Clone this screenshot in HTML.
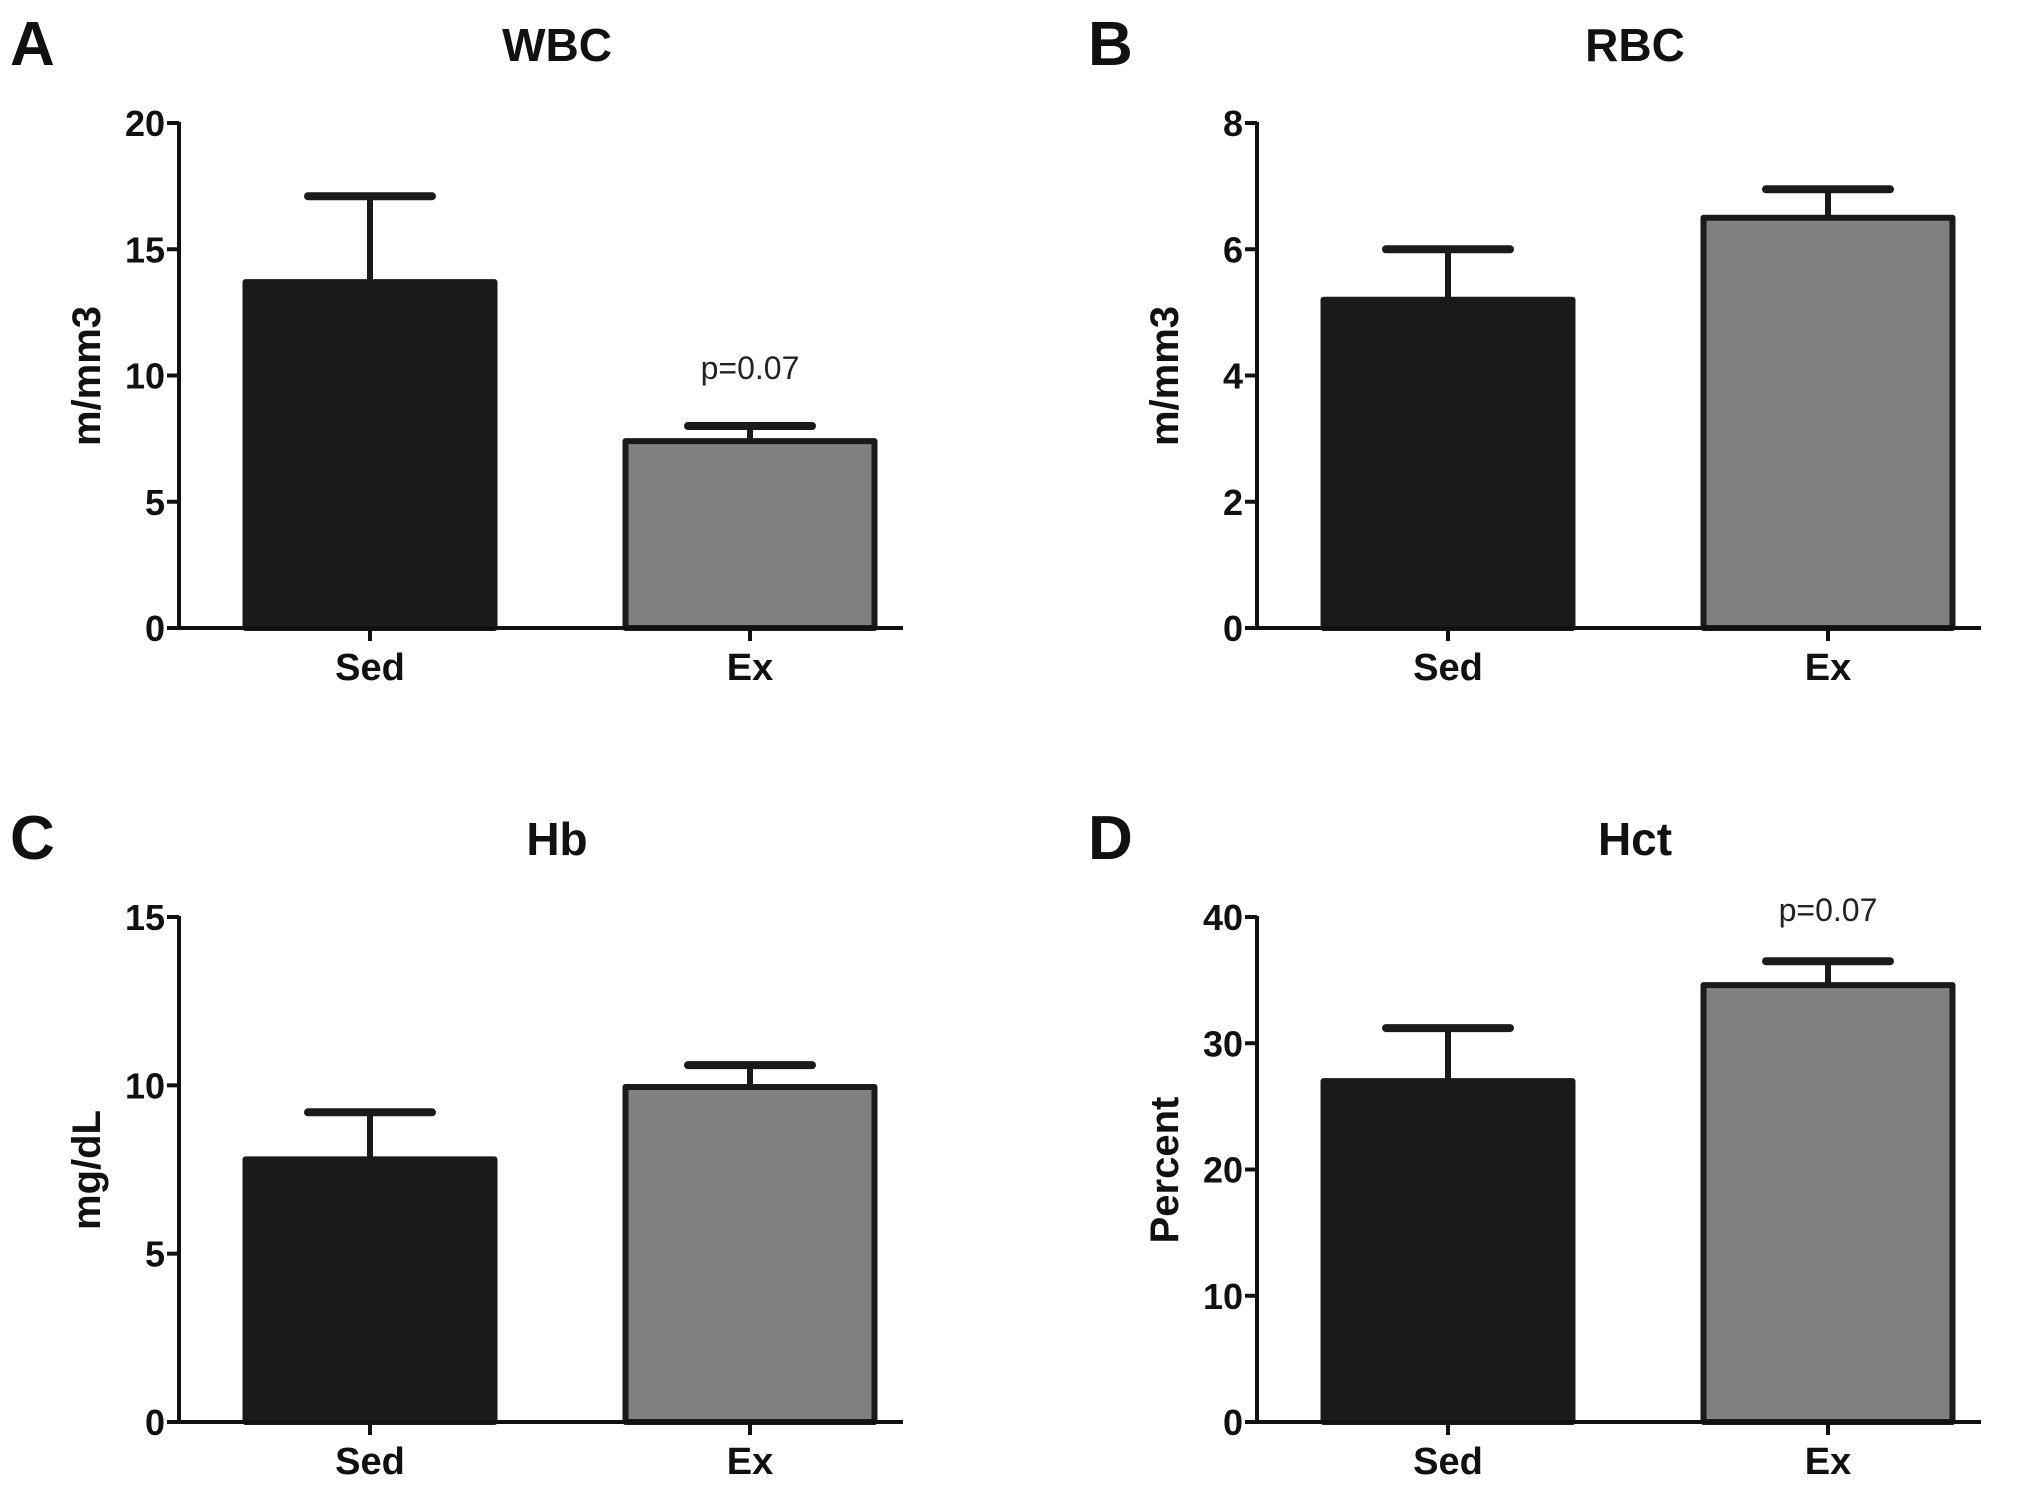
<!DOCTYPE html>
<html><head><meta charset="utf-8">
<style>
html,body{margin:0;padding:0;background:#fff;}
svg{display:block;}
text{font-family:"Liberation Sans",Arial,sans-serif;}
</style></head>
<body>
<svg id="fig" width="2031" height="1486" viewBox="0 0 2031 1486" xmlns="http://www.w3.org/2000/svg"></svg>
<script>
const categories = ["Sed", "Ex"];
const panelLetters = ["A", "B", "C", "D"];
const panelTitles = ["WBC", "RBC", "Hb", "Hct"];
const yLabels = ["m/mm3", "m/mm3", "mg/dL", "Percent"];
const yMaxes = [20, 8, 15, 40];
const yTicks = [[0,5,10,15,20],[0,2,4,6,8],[0,5,10,15],[0,10,20,30,40]];
const meansA = [13.7, 7.4];
const errTopA = [17.1, 8.0];
const meansB = [5.2, 6.5];
const errTopB = [6.0, 6.95];
const meansC = [7.8, 9.95];
const errTopC = [9.2, 10.6];
const meansD = [27.0, 34.6];
const errTopD = [31.2, 36.5];
const pNotes = ["p=0.07", "", "", "p=0.07"];

const allMeans = [meansA, meansB, meansC, meansD];
const allErr = [errTopA, errTopB, errTopC, errTopD];
const svg = document.getElementById('fig');
const NS = "http://www.w3.org/2000/svg";
function mk(tag, attrs, parent){
  const e = document.createElementNS(NS, tag);
  for (const k in attrs) e.setAttribute(k, attrs[k]);
  (parent||svg).appendChild(e); return e;
}
const offX = [0, 1078, 0, 1078];
const offY = [0, 0, 794, 794];
const fills = ["#1a1a1a", "#808080"];
for (let p = 0; p < 4; p++) {
  const ox = offX[p], oy = offY[p];
  const g = mk('g', {});
  
  
  const axX = 179 + ox, y0 = 628 + oy, yTop = 123 + oy, axEnd = 903 + ox;
  const ys = v => y0 - (v / yMaxes[p]) * (y0 - yTop);
  const cx = [370 + ox, 750 + ox];
  const bw = 255;
  let t = mk('text', {x: 10 + ox, y: 65 + oy, 'font-size': 62, 'font-weight': 'bold', fill: '#111'}, g);
  t.textContent = panelLetters[p];
  
  
  t = mk('text', {x: 557 + ox, y: 61 + oy, 'font-size': 46, 'font-weight': 'bold', 'text-anchor': 'middle', fill: '#111'}, g);
  t.textContent = panelTitles[p];
  
  
  t = mk('text', {x: 0, y: 0, 'font-size': 40, 'font-weight': 'bold', 'text-anchor': 'middle', fill: '#111', transform: `translate(${100 + ox},${376 + oy}) rotate(-90)`}, g);
  t.textContent = yLabels[p];
  
  
  for (let i = 0; i < 2; i++) {
    const m = allMeans[p][i], e = allErr[p][i];
    const ey = ys(e), my = ys(m);
    const stem = mk('line', {x1: cx[i], x2: cx[i], y1: ey, y2: my, stroke: '#1a1a1a', 'stroke-width': 6}, g);
    
    
    const cap = mk('line', {x1: cx[i] - 62, x2: cx[i] + 62, y1: ey, y2: ey, stroke: '#1a1a1a', 'stroke-width': 8, 'stroke-linecap': 'round'}, g);
    
    
    const r = mk('rect', {x: cx[i] - bw/2 + 3, y: my, width: bw - 6, height: y0 - my, fill: fills[i], stroke: '#1a1a1a', 'stroke-width': 6, 'stroke-linejoin': 'round'}, g);
    
    
    t = mk('text', {x: cx[i], y: 680 + oy, 'font-size': 38, 'font-weight': 'bold', 'text-anchor': 'middle', fill: '#111'}, g);
    t.textContent = categories[i];
    
    
    const xt = mk('line', {x1: cx[i], x2: cx[i], y1: y0, y2: y0 + 13, stroke: '#111', 'stroke-width': 4}, g);
    
    
  }
  const ya = mk('line', {x1: axX, x2: axX, y1: yTop - 1, y2: y0 + 2, stroke: '#111', 'stroke-width': 4}, g);
  
  
  const xa = mk('line', {x1: axX - 12, x2: axEnd, y1: y0, y2: y0, stroke: '#111', 'stroke-width': 4}, g);
  
  
  for (const v of yTicks[p]) {
    const y = ys(v);
    const tk = mk('line', {x1: axX - 12, x2: axX, y1: y, y2: y, stroke: '#111', 'stroke-width': 4}, g);
    
    
    t = mk('text', {x: axX - 14, y: y + 13, 'font-size': 36, 'font-weight': 'bold', 'text-anchor': 'end', fill: '#111'}, g);
    t.textContent = v;
    
    
  }
  if (pNotes[p]) {
    const noteY = p === 0 ? 379 : 921;
    t = mk('text', {x: cx[1], y: noteY, 'font-size': 32, 'text-anchor': 'middle', fill: '#222'}, g);
    t.textContent = pNotes[p];
    
    
  }
}
</script>
</body></html>
